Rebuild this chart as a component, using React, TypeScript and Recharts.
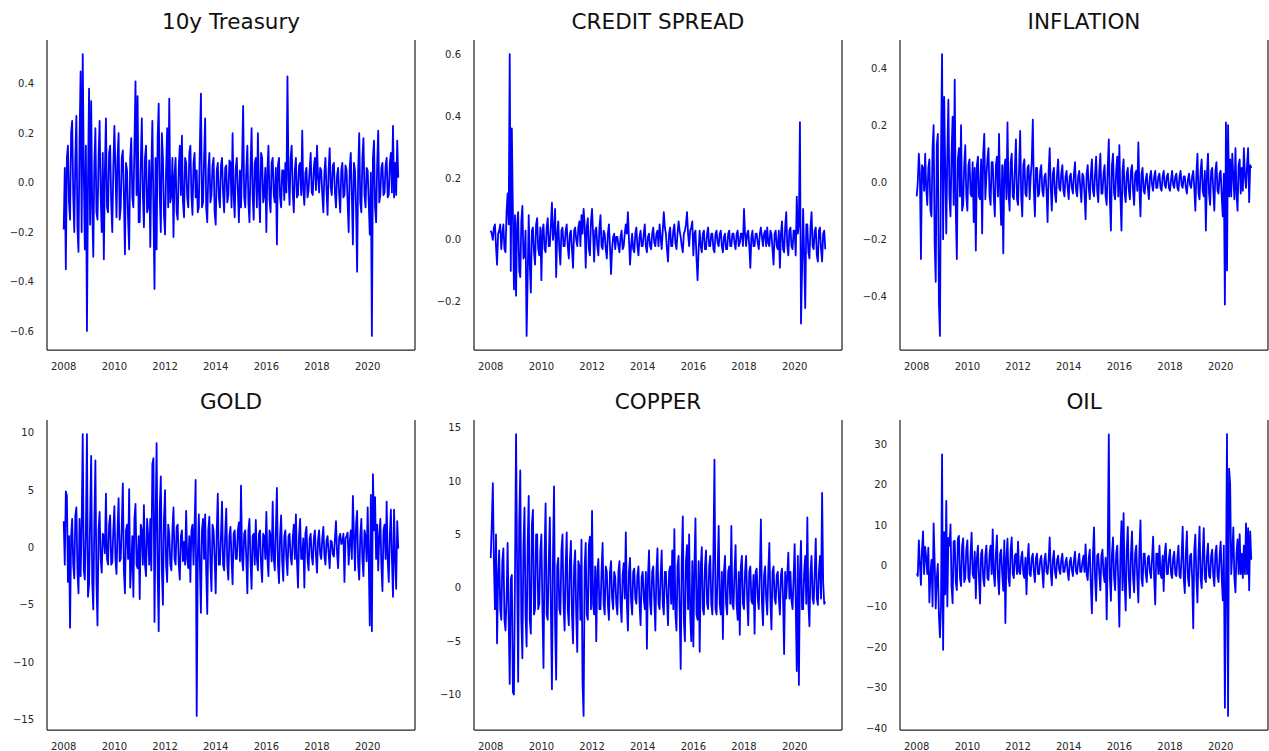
import { LineChart, Line, XAxis, YAxis, ReferenceLine } from "recharts";

// twice-monthly observations, Jan 2008 .. Mar 2021
const START_YEAR = 2008;
const PER_YEAR = 24;
const YEAR_TICKS = [2008, 2010, 2012, 2014, 2016, 2018, 2020];

const treasury = [
  -0.19, 0.06, -0.35, 0.1, 0.15, -0.08, -0.15, 0.2, 0.25, -0.05, -0.2, 0.1, 0.27, -0.18, -0.28, 0.18, 0.45, -0.2, 0.52, 0.05, -0.27, 0.15, -0.6, 0.01,
  0.38, -0.17, 0.33, -0.1, -0.3, 0.08, 0.22, -0.12, -0.15, 0.1, 0.25, -0.05, -0.2, 0.12, -0.31, 0.05, 0.26, -0.1, -0.12, 0.12, 0.15, -0.08, -0.2, 0.06,
  0.23, 0.05, -0.14, 0.1, 0.2, -0.15, -0.1, 0.1, 0.13, -0.05, -0.29, 0.08, 0.05, -0.15, -0.27, 0.1, 0.18, -0.06, -0.1, 0.15, 0.41, -0.05, 0.35, -0.16,
  -0.16, 0.08, 0.26, -0.05, -0.18, 0.1, 0.15, -0.12, -0.1, 0.09, -0.26, 0.05, 0.25, -0.1, -0.43, 0.1, -0.27, 0.18, 0.32, -0.05, -0.2, 0.2, 0.1, -0.13,
  -0.21, 0.05, 0.22, -0.1, 0.34, -0.08, -0.05, 0.1, -0.22, 0.03, 0.1, -0.12, -0.15, 0.06, 0.15, -0.05, 0.19, -0.08, -0.14, 0.1, 0.08, -0.06, -0.1, 0.12,
  0.15, -0.05, -0.13, 0.08, 0.12, -0.06, 0.05, -0.12, -0.1, 0.15, 0.36, -0.1, -0.08, 0.1, 0.26, -0.1, -0.16, 0.05, 0.12, -0.08, -0.05, 0.07, 0.1, -0.12,
  -0.17, 0.05, 0.08, -0.06, -0.1, 0.07, 0.1, -0.04, -0.12, 0.06, 0.07, -0.08, -0.05, 0.09, 0.08, -0.1, 0.2, -0.05, -0.14, 0.06, 0.1, -0.03, -0.16, 0.05,
  -0.1, 0.08, 0.31, -0.06, -0.1, 0.05, 0.15, -0.08, -0.16, 0.06, 0.22, -0.05, -0.15, 0.08, 0.1, -0.1, 0.2, -0.04, -0.16, 0.12, 0.1, -0.08, -0.05, 0.06,
  -0.2, 0.05, 0.15, -0.07, -0.12, 0.08, 0.1, -0.05, -0.08, 0.06, -0.25, 0.07, 0.1, -0.06, -0.1, 0.05, 0.05, -0.07, 0.08, -0.04, 0.43, 0.02, -0.09, 0.1,
  0.15, -0.04, -0.12, 0.05, 0.1, -0.06, -0.05, 0.07, 0.08, -0.05, 0.21, -0.03, -0.09, 0.04, 0.06, -0.06, -0.03, 0.05, 0.12, -0.04, -0.05, 0.06, 0.1, -0.03,
  0.15, 0.02, -0.04, 0.06, 0.05, -0.05, -0.12, 0.04, 0.1, -0.03, -0.13, 0.05, 0.14, -0.02, -0.05, 0.07, 0.08, -0.04, -0.1, 0.03, 0.06, -0.05, -0.12, 0.05,
  0.08, -0.06, -0.05, 0.07, 0.05, -0.08, -0.2, 0.06, 0.12, -0.05, -0.25, 0.08, 0.05, -0.1, -0.36, 0.05, 0.2, -0.08, -0.12, 0.1, 0.18, -0.05, -0.1, 0.06,
  0.05, -0.08, -0.21, 0.04, -0.62, 0.1, 0.17, -0.1, -0.16, 0.07, 0.21, -0.08, -0.05, 0.06, 0.08, -0.05, -0.04, 0.07, 0.1, -0.06, -0.05, 0.08, 0.12, -0.04,
  0.23, -0.06, 0.08, -0.05, 0.17, 0.02,
];

const creditSpread = [
  0.03, 0.02, 0.0, 0.04, 0.05, -0.02, -0.08, 0.02, 0.03, 0.05, -0.03, 0.02, 0.05, -0.03, -0.04, 0.09, 0.15, 0.05, 0.6, -0.1, 0.36, 0.09, -0.16, 0.08,
  -0.18, 0.05, 0.09, -0.1, -0.12, 0.06, 0.11, -0.06, -0.05, 0.03, -0.31, -0.12, 0.08, -0.08, -0.17, 0.03, 0.04, -0.04, -0.08, 0.05, 0.07, -0.03, -0.05, 0.04,
  -0.13, 0.03, 0.05, -0.03, -0.04, 0.04, 0.07, -0.02, -0.02, 0.05, 0.12, 0.0, 0.03, 0.1, -0.12, 0.02, 0.06, -0.03, -0.08, 0.03, 0.04, -0.02, -0.02, 0.03,
  0.05, -0.02, -0.06, 0.02, 0.03, -0.03, -0.09, 0.03, 0.04, 0.0, -0.02, 0.04, 0.06, -0.02, 0.08, 0.02, 0.1, 0.05, -0.09, 0.04, 0.07, -0.03, -0.05, 0.06,
  0.1, 0.02, -0.07, 0.03, 0.04, -0.02, -0.05, 0.04, 0.08, -0.02, -0.03, 0.03, 0.02, -0.03, -0.06, 0.02, 0.05, -0.02, -0.11, -0.03, 0.01, 0.02, -0.03, 0.01,
  0.01, -0.02, -0.04, 0.01, 0.03, -0.03, -0.02, 0.02, 0.05, 0.02, 0.09, 0.0, -0.08, -0.02, 0.02, -0.03, -0.04, 0.02, 0.04, -0.02, -0.05, 0.01, 0.03, -0.02,
  -0.02, 0.02, 0.05, -0.02, -0.04, 0.01, 0.02, -0.02, -0.03, 0.02, 0.04, -0.01, -0.02, 0.02, 0.03, -0.02, 0.05, 0.01, -0.03, 0.03, 0.09, 0.04, 0.02, -0.03,
  -0.07, 0.02, 0.04, -0.02, -0.02, 0.03, 0.05, -0.01, -0.03, 0.02, 0.06, 0.03, 0.01, -0.02, -0.04, 0.02, 0.03, 0.05, 0.09, 0.02, -0.02, 0.03, 0.04, 0.06,
  -0.05, 0.02, 0.03, -0.06, -0.13, -0.03, 0.03, -0.02, -0.04, 0.02, 0.03, -0.03, -0.03, 0.02, 0.04, -0.02, -0.02, 0.02, 0.02, -0.03, -0.04, 0.02, 0.03, -0.01,
  -0.02, 0.02, 0.03, -0.02, -0.04, 0.01, 0.02, -0.03, -0.03, 0.02, 0.03, -0.02, -0.02, 0.02, 0.02, -0.01, -0.03, 0.02, 0.03, -0.02, -0.01, 0.02, 0.02, -0.02,
  0.1, 0.02, -0.02, 0.02, 0.03, -0.02, -0.09, 0.01, 0.03, -0.02, -0.02, 0.02, 0.02, -0.01, -0.03, 0.02, 0.04, 0.01, -0.02, 0.02, 0.03, -0.02, 0.04, -0.01,
  -0.02, 0.03, 0.02, -0.03, -0.08, 0.02, 0.03, -0.02, -0.03, 0.03, -0.09, 0.02, 0.06, -0.03, -0.04, 0.04, 0.09, -0.02, -0.05, 0.03, 0.04, -0.02, -0.03, 0.03,
  0.03, -0.05, 0.14, 0.02, 0.05, 0.38, -0.27, -0.1, 0.1, -0.05, -0.22, 0.05, 0.05, -0.04, -0.06, 0.04, 0.09, -0.02, -0.03, 0.03, 0.04, -0.05, -0.07, 0.03,
  0.04, -0.03, -0.07, 0.02, 0.03, -0.03,
];

const inflation = [
  -0.05, 0.0, 0.1, 0.03, -0.27, 0.06, 0.05, -0.03, 0.1, -0.02, -0.08, 0.05, 0.08, -0.1, -0.12, 0.12, 0.2, -0.22, -0.35, 0.13, 0.17, -0.42, -0.54, 0.1,
  0.45, -0.2, 0.3, 0.05, -0.18, 0.1, 0.29, -0.05, -0.12, 0.1, 0.23, -0.08, 0.36, -0.1, -0.27, 0.08, 0.12, -0.05, 0.2, -0.1, -0.08, 0.06, 0.13, -0.05,
  -0.1, 0.06, 0.08, -0.04, -0.05, 0.07, -0.14, 0.05, -0.24, 0.06, 0.09, -0.05, -0.06, 0.08, -0.18, 0.1, 0.17, -0.06, 0.02, 0.08, 0.12, -0.05, -0.08, 0.07,
  0.07, -0.05, -0.12, 0.06, 0.09, -0.05, 0.17, -0.04, -0.15, 0.06, -0.25, 0.05, 0.08, -0.06, 0.21, -0.04, -0.1, 0.07, 0.1, -0.05, -0.06, 0.05, 0.15, -0.06,
  -0.08, 0.05, 0.18, -0.05, -0.12, 0.06, 0.08, -0.04, -0.05, 0.05, 0.06, -0.06, 0.02, 0.07, 0.22, -0.03, -0.12, 0.05, 0.05, -0.05, -0.04, 0.04, 0.06, -0.03,
  -0.05, 0.02, 0.03, -0.03, -0.14, 0.04, 0.12, -0.02, -0.1, 0.03, 0.05, -0.04, -0.07, 0.03, 0.08, -0.02, -0.03, 0.03, 0.06, -0.03, -0.05, 0.02, 0.04, -0.02,
  -0.06, 0.02, 0.03, -0.02, -0.04, 0.03, 0.07, -0.03, -0.05, 0.02, 0.04, -0.02, -0.07, 0.03, 0.02, -0.04, -0.13, 0.03, 0.06, -0.02, -0.06, 0.03, 0.08, -0.03,
  -0.05, 0.03, 0.09, -0.03, -0.07, 0.04, 0.1, -0.04, -0.04, 0.03, 0.06, -0.05, -0.08, 0.05, 0.15, -0.06, -0.17, 0.06, 0.1, -0.04, -0.06, 0.04, 0.09, -0.05,
  0.13, -0.05, -0.17, 0.04, 0.08, -0.04, -0.07, 0.03, 0.05, -0.03, -0.06, 0.04, 0.06, -0.03, -0.08, 0.03, 0.04, -0.03, 0.14, -0.02, -0.12, 0.03, 0.05, -0.03,
  -0.04, 0.01, 0.03, -0.02, -0.06, 0.02, 0.04, -0.01, -0.03, 0.02, 0.04, -0.02, -0.02, 0.02, 0.03, -0.02, -0.03, 0.02, 0.04, -0.01, -0.02, 0.02, 0.03, -0.02,
  -0.03, 0.01, 0.04, -0.01, -0.02, 0.02, 0.03, -0.02, -0.03, 0.02, 0.04, -0.01, -0.02, 0.02, 0.02, -0.02, -0.04, 0.01, 0.03, -0.01, -0.02, 0.02, 0.04, -0.02,
  -0.1, 0.03, 0.1, -0.04, -0.06, 0.04, 0.08, -0.03, -0.05, 0.04, -0.17, 0.03, 0.1, -0.04, -0.08, 0.04, 0.05, -0.03, -0.1, 0.04, 0.07, -0.03, -0.04, 0.03,
  0.04, -0.05, -0.12, 0.03, -0.43, 0.21, -0.31, 0.2, -0.05, 0.08, -0.05, 0.1, 0.02, -0.06, 0.12, -0.04, -0.1, 0.06, 0.08, -0.04, 0.05, -0.03, 0.12, 0.02,
  -0.02, 0.06, 0.12, -0.07, 0.06, 0.05,
];

const gold = [
  2.3, -1.5, 4.9, 4.5, -3.0, 1.0, -7.0, 1.0, 2.5, -1.5, -2.7, 2.8, 3.5, -2.0, -4.0, 2.5, -2.5, 2.0, 9.9, -2.0, -2.8, 1.5, 9.9, -4.3,
  -3.2, 2.5, 8.0, -3.0, -5.4, 2.0, 7.6, -3.0, -6.8, 1.5, 3.1, -1.0, -2.2, 1.2, 1.0, -0.5, 4.7, -1.0, -1.5, 2.0, 2.8, -1.5, -1.3, 1.5,
  3.6, -1.0, -2.3, 1.5, 4.3, -1.2, -1.0, 2.0, 5.6, -2.0, -4.0, 1.5, 2.0, -1.0, 5.1, -3.5, -1.5, 1.0, -4.3, 2.5, 3.8, -1.5, -1.8, 1.0,
  -4.5, 2.0, 1.5, -1.5, 3.7, -1.5, -2.5, 2.5, 1.0, -1.5, 2.5, -2.0, 7.3, 7.8, -6.5, 2.0, 9.1, -2.0, -7.3, 3.5, 6.2, -2.0, -5.0, 2.5,
  5.0, -1.5, -3.0, 2.0, 1.2, -1.5, -2.0, 1.5, 3.5, -1.0, -1.5, 1.8, 2.0, -1.5, -2.8, 1.0, 1.5, -1.2, 0.5, -1.5, 3.2, -1.0, -1.8, 1.0,
  -3.0, 1.5, 2.0, -1.5, 2.0, 5.9, -14.7, -1.0, 2.9, -1.5, -5.7, 1.5, 2.5, -1.0, 2.9, -2.0, -5.8, 1.5, 2.7, -1.5, -3.8, 2.0, 1.5, -1.0,
  -4.0, 1.5, 4.7, -1.5, -1.5, 1.0, 4.0, -1.5, -2.0, 1.2, 3.4, -1.5, -2.8, 1.0, 1.8, -1.0, -3.2, 1.2, 1.5, -1.0, -1.0, 1.5, 2.2, -1.2,
  5.4, -1.0, -2.0, 1.2, 1.5, -1.0, -4.0, 1.5, 2.5, -1.2, -3.6, 1.0, 1.2, -1.5, 2.4, -1.0, -2.0, 1.2, 1.5, -1.5, -3.0, 1.2, 1.0, -1.0,
  3.1, -1.0, -2.5, 1.5, 1.0, -1.2, 4.0, -1.0, -2.0, 1.5, 5.2, -1.5, -3.1, 1.0, 2.8, -1.2, -2.9, 1.0, 1.5, -1.0, -2.4, 1.0, 1.2, -0.8,
  -1.5, 0.8, 2.0, -1.0, 2.9, -1.2, -3.5, 1.0, 2.5, -1.0, -1.0, 0.8, -3.5, 1.2, 1.8, -1.0, -2.0, 0.8, 1.2, -0.8, -1.5, 0.8, 1.5, -0.7,
  -2.2, 0.7, 1.5, -0.6, -1.0, 0.8, 1.8, -0.7, -1.5, 0.6, 1.0, -0.5, -1.8, 0.6, 0.5, -0.6, -0.8, 0.8, 2.3, -0.5, -1.8, 0.9, 1.2, 0.3,
  0.5, 1.2, -3.0, 0.8, 1.0, 1.3, -1.5, 0.5, 1.5, -1.0, 4.5, 1.0, -2.0, 2.0, 3.2, -1.5, -2.8, 1.0, 2.5, -1.0, -2.5, 1.5, 1.0, -1.2,
  3.5, -1.0, -6.8, 4.6, -7.3, 6.4, 1.5, 4.4, -1.0, 2.0, -2.0, 1.0, 2.5, -1.5, -3.8, 1.5, 2.0, -1.0, 4.0, -1.2, -3.0, 1.0, 3.3, -1.0,
  -4.3, 3.3, -1.0, -3.6, 2.3, -0.1,
];

const copper = [
  2.8, 6.0, 9.8, 2.5, -2.0, 5.0, -5.2, 1.0, 3.5, -2.0, -3.0, 2.5, 3.7, -3.0, -4.0, -1.0, 4.2, -3.0, -9.0, 0.8, 1.2, -9.8, -10.0, 1.3,
  14.4, 2.0, -8.8, 6.1, 11.0, -3.0, -6.6, 4.0, 7.5, -2.5, -5.5, 4.0, 8.6, -3.0, -4.3, 5.9, 7.3, -2.5, -2.0, 5.0, 5.0, -2.0, -1.5, 3.5,
  5.0, -2.0, -7.5, 3.0, 7.9, -2.5, -3.0, 2.5, 6.6, -2.0, -9.5, 3.0, 9.5, -3.5, -8.6, 2.0, 2.8, -2.0, -2.5, 3.5, 5.0, -1.5, -4.0, 2.0,
  5.2, -2.0, -3.5, 2.5, 4.4, -2.5, -5.2, 2.0, 3.5, -2.5, -6.0, 2.5, 2.0, -3.0, 4.5, -9.0, -12.0, 2.0, 4.2, -2.5, -3.0, 4.0, 4.8, -2.0,
  7.2, -1.5, -2.5, 2.0, -5.0, 1.5, 2.7, -2.0, -2.0, 1.5, 4.2, -1.5, -2.5, 2.0, 1.5, -1.5, -3.0, 1.5, 2.5, -1.0, -2.0, 1.5, 1.0, -1.5,
  -2.5, 1.5, 2.5, -1.5, -3.2, 1.2, 2.3, -1.0, 5.2, -1.5, -4.0, 1.5, 2.8, -1.2, -2.5, 1.5, 1.8, -1.0, -1.5, 1.2, 2.0, -1.5, -3.5, 1.0,
  1.5, -1.0, -2.0, 1.5, -5.7, 1.0, 3.5, -1.5, -2.5, 1.5, 2.0, -1.2, -4.0, 1.5, 3.7, -1.5, -2.0, 1.2, 3.5, -1.5, -2.5, 1.5, 1.5, -1.0,
  -3.5, 1.5, 2.0, -1.5, 3.5, -2.0, 5.5, -2.5, -4.0, 2.0, 3.0, -2.0, -7.6, 2.5, 6.7, -3.0, -5.0, 2.5, 4.0, -2.0, 5.0, -2.5, -5.0, 2.5,
  -5.5, 2.0, 6.5, -2.5, -3.0, 2.5, -6.0, 2.0, 3.8, -2.0, -2.5, 2.0, 3.5, -1.5, -2.0, 2.0, 3.0, -1.5, -2.5, 3.0, 12.0, -2.0, -2.5, 1.5,
  5.8, -1.5, -2.5, 1.5, -4.8, 1.5, 3.0, -1.5, -2.5, 1.5, 2.0, -1.5, 5.8, -1.5, -2.0, 1.5, 4.0, -1.5, -3.0, 1.5, -4.4, 2.0, 3.0, -1.5,
  -2.0, 1.5, 3.0, -1.0, -3.5, 1.5, 2.0, -1.2, -1.5, 1.2, -4.3, 1.5, 1.8, -1.0, -2.0, 1.5, 6.4, -1.5, -3.5, 1.2, 2.0, -1.0, -2.5, 1.5,
  4.2, -1.2, -3.9, 1.5, 2.0, -1.0, -1.5, 1.2, 1.5, -1.0, -2.5, 1.2, 1.8, -1.0, -6.2, 1.5, -1.0, 1.2, 3.3, -1.0, 1.5, -1.2, -2.0, 1.0,
  4.1, -1.5, -7.8, 3.0, -9.1, 1.5, 4.4, -2.0, -2.0, 1.5, 3.0, -1.5, 6.6, -1.5, -3.6, 1.5, 3.0, -1.0, -1.5, 1.5, 4.6, -1.0, -1.6, 1.5,
  3.0, -1.0, 8.9, 0.5, -1.5, -1.3,
];

const oil = [
  -1.8, -2.5, 6.3, 0.5, -4.7, 4.0, 8.5, -2.0, 4.7, 2.0, -2.0, 4.5, -9.0, -2.0, 1.5, -10.0, 10.5, 1.0, -10.5, -3.0, 0.5, -12.0, -17.6, -10.0,
  27.5, -20.7, 8.3, -7.0, 16.0, -10.0, 6.9, 5.0, 10.2, -5.0, -9.2, 6.0, 6.2, -4.0, -6.0, 6.8, 7.4, -3.0, -5.0, 5.0, 6.8, -4.0, -3.0, 4.0,
  6.3, -3.0, -4.0, 3.0, 8.2, -2.0, -3.0, 3.5, -8.0, 2.0, 5.0, -3.0, -9.3, 3.0, 4.0, -3.0, -5.0, 2.5, 5.0, -3.0, -3.5, 3.0, 5.0, -2.0,
  9.0, -2.0, -5.0, 3.0, 7.5, -3.0, -7.0, 3.0, 4.0, -2.0, -6.1, 6.3, -14.1, 2.0, 6.7, -3.0, -5.0, 4.0, 7.0, -2.0, -3.0, 2.5, 3.0, -2.0,
  6.0, -1.5, -2.0, 2.0, 3.5, -2.0, -3.0, 2.0, -7.0, 1.5, 5.4, -2.0, -2.5, 2.0, 3.0, -1.5, -4.0, 2.0, 3.0, -2.0, -2.0, 1.5, 2.5, -1.5,
  -5.3, 1.5, 3.0, -1.5, -2.0, 1.5, 7.0, -1.5, -4.8, 1.5, 3.7, -1.5, -3.0, 1.5, 2.5, -1.0, -2.0, 1.5, 3.0, -1.5, -1.5, 1.0, 2.0, -1.5,
  -3.5, 1.0, 2.0, -1.0, -2.5, 1.5, 3.5, -1.5, -2.0, 1.0, 3.0, -1.5, -1.5, 1.0, 2.5, -1.5, 5.3, -2.0, -3.5, 2.0, 4.0, -5.0, -11.7, 3.0,
  9.5, -3.0, -8.6, 2.5, 3.0, -2.0, -6.0, 2.5, 4.0, -2.0, -4.0, 2.0, -13.2, 3.0, 32.4, -3.0, -8.6, 3.0, 7.0, -3.0, -6.0, 3.0, 5.0, -4.0,
  -15.0, 3.0, 11.0, -6.0, 13.0, -4.0, -11.0, 4.0, 9.6, -3.0, -7.9, 3.0, 8.5, -3.0, -6.5, 3.0, 5.0, -3.0, -9.0, 4.0, 11.2, -3.0, -5.0, 3.0,
  3.0, -2.0, -4.0, 2.0, 2.5, -1.5, -3.0, 2.0, 7.2, -3.0, -9.5, 3.0, 3.0, -2.0, 5.0, -2.0, -3.0, 2.5, -6.2, 3.0, 5.5, -2.0, -2.0, 2.0,
  4.0, -2.0, -3.0, 2.0, 3.5, -2.0, -2.5, 2.0, 5.0, -2.5, -3.0, 2.5, 9.7, -3.0, -6.7, 3.0, 8.5, -3.0, -5.0, 2.5, 3.0, -3.0, -15.4, 4.0,
  7.7, -3.0, -9.0, 3.0, 9.7, -3.0, -5.5, 3.0, 9.3, -3.0, -4.0, 2.5, 5.5, -2.5, -3.0, 2.5, 4.0, -2.5, -5.0, 3.0, 5.0, -2.5, -4.0, 2.5,
  6.0, -3.0, -8.5, 5.0, -35.0, -5.0, 32.5, -37.0, 24.0, 20.0, -2.0, 3.0, 9.5, -3.0, -6.5, 3.0, 6.5, -2.0, 7.8, -2.0, 3.0, -3.0, 5.0, -2.0,
  10.5, -2.0, 9.3, -6.0, 8.5, 1.5,
];

const treasuryTicks = [-0.6, -0.4, -0.2, 0, 0.2, 0.4];
const creditTicks = [-0.2, 0, 0.2, 0.4, 0.6];
const inflationTicks = [-0.4, -0.2, 0, 0.2, 0.4];
const goldTicks = [-15, -10, -5, 0, 5, 10];
const copperTicks = [-10, -5, 0, 5, 10, 15];
const oilTicks = [-40, -30, -20, -10, 0, 10, 20, 30];

const FONT = "'DejaVu Sans', sans-serif";
const INK = "#262626";
const SPINE = "#262626";
const PLOT_W = 368;
const PLOT_H = 310;
const YAXIS_W = 50;
const XAXIS_H = 30;

const panels = [
  { title: "10y Treasury", values: treasury, ticks: treasuryTicks, digits: 1, left: 47, top: 40 },
  { title: "CREDIT SPREAD", values: creditSpread, ticks: creditTicks, digits: 1, left: 474, top: 40 },
  { title: "INFLATION", values: inflation, ticks: inflationTicks, digits: 1, left: 900, top: 40 },
  { title: "GOLD", values: gold, ticks: goldTicks, digits: 0, left: 47, top: 420 },
  { title: "COPPER", values: copper, ticks: copperTicks, digits: 0, left: 474, top: 420 },
  { title: "OIL", values: oil, ticks: oilTicks, digits: 0, left: 900, top: 420 },
];

function fmt(digits: number) {
  return (v: number) => {
    const s = Math.abs(v).toFixed(digits);
    return v < -1e-9 ? "\u2212" + s : s;
  };
}

// matplotlib-style 5% padding around the data
function padded(lo: number, hi: number): [number, number] {
  const m = (hi - lo) * 0.05;
  return [lo - m, hi + m];
}

function Panel({ p }: { p: (typeof panels)[number] }) {
  const data = p.values.map((v, i) => ({ t: START_YEAR + i / PER_YEAR, v }));
  const xDomain = padded(data[0].t, data[data.length - 1].t);
  const yDomain = padded(Math.min(...p.values), Math.max(...p.values));
  const tick = { fontSize: 10, fill: INK, fontFamily: FONT };

  return (
    <div style={{ position: "absolute", left: p.left - YAXIS_W, top: p.top }}>
      <LineChart
        width={YAXIS_W + PLOT_W + 2}
        height={PLOT_H + XAXIS_H}
        data={data}
        margin={{ top: 0, right: 2, bottom: 0, left: 0 }}
      >
        <XAxis
          dataKey="t"
          type="number"
          domain={xDomain}
          ticks={YEAR_TICKS}
          allowDataOverflow
          height={XAXIS_H}
          tick={tick}
          tickLine={false}
          tickSize={0}
          tickMargin={13}
          axisLine={{ stroke: SPINE, strokeWidth: 1.25 }}
        />
        <YAxis
          type="number"
          domain={yDomain}
          ticks={p.ticks}
          allowDataOverflow
          width={YAXIS_W}
          tick={tick}
          tickFormatter={fmt(p.digits)}
          tickLine={false}
          tickSize={0}
          tickMargin={13}
          axisLine={{ stroke: SPINE, strokeWidth: 1.25 }}
        />
        <ReferenceLine x={xDomain[1]} stroke={SPINE} strokeWidth={1.25} />
        <Line
          dataKey="v"
          type="linear"
          stroke="#0000ff"
          strokeWidth={1.8}
          strokeLinejoin="round"
          dot={false}
          activeDot={false}
          isAnimationActive={false}
        />
      </LineChart>
    </div>
  );
}

export default function App() {
  return (
    <div
      style={{
        position: "absolute",
        left: 0,
        top: 0,
        width: 1269,
        height: 751,
        background: "#ffffff",
        fontFamily: FONT,
      }}
    >
      {panels.map((p) => (
        <Panel key={p.title} p={p} />
      ))}
      <svg
        width={1269}
        height={751}
        style={{ position: "absolute", left: 0, top: 0, pointerEvents: "none" }}
      >
        {panels.map((p) => (
          <text
            key={p.title}
            x={p.left + PLOT_W / 2}
            y={p.top - 11}
            textAnchor="middle"
            fontFamily={FONT}
            fontSize={21.5}
            fill="#111111"
          >
            {p.title}
          </text>
        ))}
      </svg>
    </div>
  );
}
